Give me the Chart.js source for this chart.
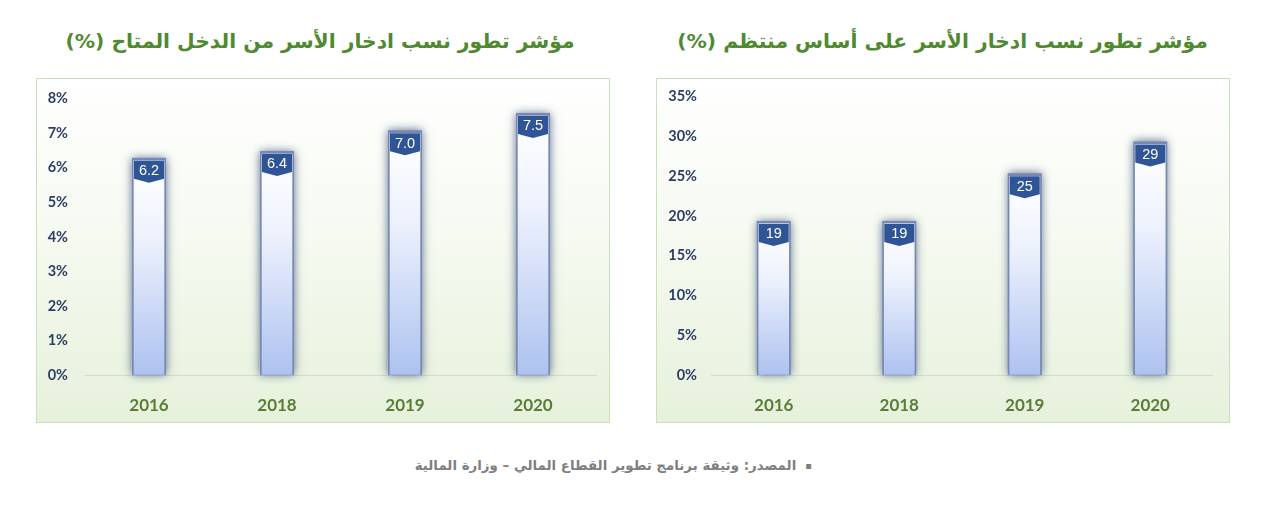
<!DOCTYPE html>
<html lang="ar">
<head>
<meta charset="utf-8">
<title>مؤشر تطور نسب ادخار الأسر</title>
<script src="https://cdn.jsdelivr.net/npm/chart.js@4.4.1/dist/chart.umd.min.js"></script>
<style>
  html, body { margin: 0; padding: 0; background: #ffffff; }
  body { width: 1280px; height: 530px; position: relative; overflow: hidden; }
  .title {
    position: absolute; top: 23px; height: 36px; line-height: 36px;
    text-align: center; direction: rtl;
    font-family: "DejaVu Sans", sans-serif; font-weight: bold; font-size: 20.3px;
    color: #4f8a2f;
  }
  .panel {
    position: absolute; top: 78px; width: 572px; height: 343px;
    border: 1.5px solid #c9e1b8;
    background: linear-gradient(to bottom, #ffffff 0%, #f6faf1 45%, #e6f1dc 100%);
  }
  .chartbox { position: absolute; left: 0; width: 572px; }
  .source {
    position: absolute; top: 458px; left: 372px; width: 440px;
    direction: rtl; text-align: right;
    font-family: "DejaVu Sans", sans-serif; font-weight: bold; font-size: 13.4px;
    color: #7f7f7f;
  }
  .source span { font-size: 10px; margin-left: 9px; vertical-align: 1px; }
</style>
</head>
<body>

<div class="title" style="left:40px; width:560px;">مؤشر تطور نسب ادخار الأسر من الدخل المتاح (%)</div>
<div class="title" style="left:660px; width:565px;">مؤشر تطور نسب ادخار الأسر على أساس منتظم (%)</div>

<div class="panel" style="left:36px;">
  <div class="chartbox" style="top:-6px; height:349px;"><canvas id="incomeChart"></canvas></div>
</div>
<div class="panel" style="left:656px;">
  <div class="chartbox" style="top:-5px; height:348px;"><canvas id="regularChart"></canvas></div>
</div>

<div class="source"><span>&#9642;</span>المصدر: وثيقة برنامج تطوير القطاع المالي – وزارة المالية</div>

<script>
// Data
const years = ['2016', '2018', '2019', '2020'];
const incomeSavings = [6.2, 6.4, 7.0, 7.5];    // % of disposable income
const regularSavings = [19, 19, 25, 29];       // % saving on a regular basis
const incomeTicks = [0, 1, 2, 3, 4, 5, 6, 7, 8];
const regularTicks = [0, 5, 10, 15, 20, 25, 30, 35];

// Soft blue-grey glow drawn behind each bar
const barGlow = {
  id: 'barGlow',
  beforeDatasetsDraw(chart) {
    const ctx = chart.ctx;
    const bottom = chart.chartArea.bottom;
    ctx.save();
    ctx.shadowColor = 'rgba(40, 60, 110, 0.75)';
    ctx.shadowBlur = 9;
    ctx.fillStyle = '#7689b2';
    chart.getDatasetMeta(0).data.forEach(bar => {
      ctx.fillRect(bar.x - bar.width / 2 - 2, bar.y - 3, bar.width + 4, bottom - bar.y + 3);
    });
    ctx.restore();
  }
};

// Dark blue value banners sitting on top of each bar
const valueBanner = {
  id: 'valueBanner',
  afterDatasetsDraw(chart, args, opts) {
    const ctx = chart.ctx;
    const meta = chart.getDatasetMeta(0);
    const values = chart.data.datasets[0].data;
    ctx.save();
    meta.data.forEach((bar, i) => {
      const w = bar.width;
      const left = bar.x - w / 2;
      const top = bar.y;
      ctx.fillStyle = '#2f5597';
      ctx.beginPath();
      ctx.moveTo(left, top);
      ctx.lineTo(left + w, top);
      ctx.lineTo(left + w, top + 18);
      ctx.lineTo(bar.x, top + 22);
      ctx.lineTo(left, top + 18);
      ctx.closePath();
      ctx.fill();
      ctx.fillStyle = '#ffffff';
      ctx.font = '14.5px "Liberation Sans", Arial, sans-serif';
      ctx.textAlign = 'center';
      ctx.textBaseline = 'middle';
      ctx.fillText(values[i].toFixed(opts.decimals), bar.x, top + 10.5);
    });
    ctx.restore();
  }
};

function barFill(context) {
  const chart = context.chart;
  const area = chart.chartArea;
  if (!area) return '#dfe7fa';
  const top = chart.scales.y.getPixelForValue(context.raw);
  const g = chart.ctx.createLinearGradient(0, top, 0, area.bottom);
  g.addColorStop(0, '#ffffff');
  g.addColorStop(0.35, '#eef2fd');
  g.addColorStop(1, '#adc2f0');
  return g;
}

function makeChart(canvasId, values, ticks, decimals, yWidth, tickPad, rightPad) {
  new Chart(document.getElementById(canvasId), {
    type: 'bar',
    data: {
      labels: years,
      datasets: [{
        data: values,
        backgroundColor: barFill,
        borderWidth: 0,
        barThickness: 30
      }]
    },
    options: {
      responsive: true,
      maintainAspectRatio: false,
      animation: false,
      events: [],
      layout: { padding: { top: 0, right: rightPad, left: 0, bottom: 0 } },
      plugins: {
        legend: { display: false },
        tooltip: { enabled: false },
        valueBanner: { decimals: decimals }
      },
      scales: {
        x: {
          grid: { display: false },
          border: { display: false },
          ticks: {
            padding: 12,
            color: '#5b7c37',
            font: { family: 'Lato, "Open Sans", sans-serif', size: 17, weight: 'bold' }
          },
          afterFit(scale) { scale.height = 47; }
        },
        y: {
          min: ticks[0],
          max: ticks[ticks.length - 1],
          afterBuildTicks(scale) { scale.ticks = ticks.map(v => ({ value: v })); },
          grid: {
            drawTicks: false,
            color: c => (c.tick && c.tick.value === 0 ? '#d3dccb' : 'rgba(0,0,0,0)'),
            lineWidth: 1
          },
          border: { display: false },
          ticks: {
            padding: tickPad,
            color: '#2e3d64',
            font: { family: 'Lato, "Open Sans", sans-serif', size: 14.5, weight: 'bold' },
            callback: v => v + '%'
          },
          afterFit(scale) { scale.width = yWidth; }
        }
      }
    },
    plugins: [barGlow, valueBanner]
  });
}

makeChart('incomeChart', incomeSavings, incomeTicks, 1, 48, 17, 12);
makeChart('regularChart', regularSavings, regularTicks, 0, 54, 14, 16);
</script>
</body>
</html>
